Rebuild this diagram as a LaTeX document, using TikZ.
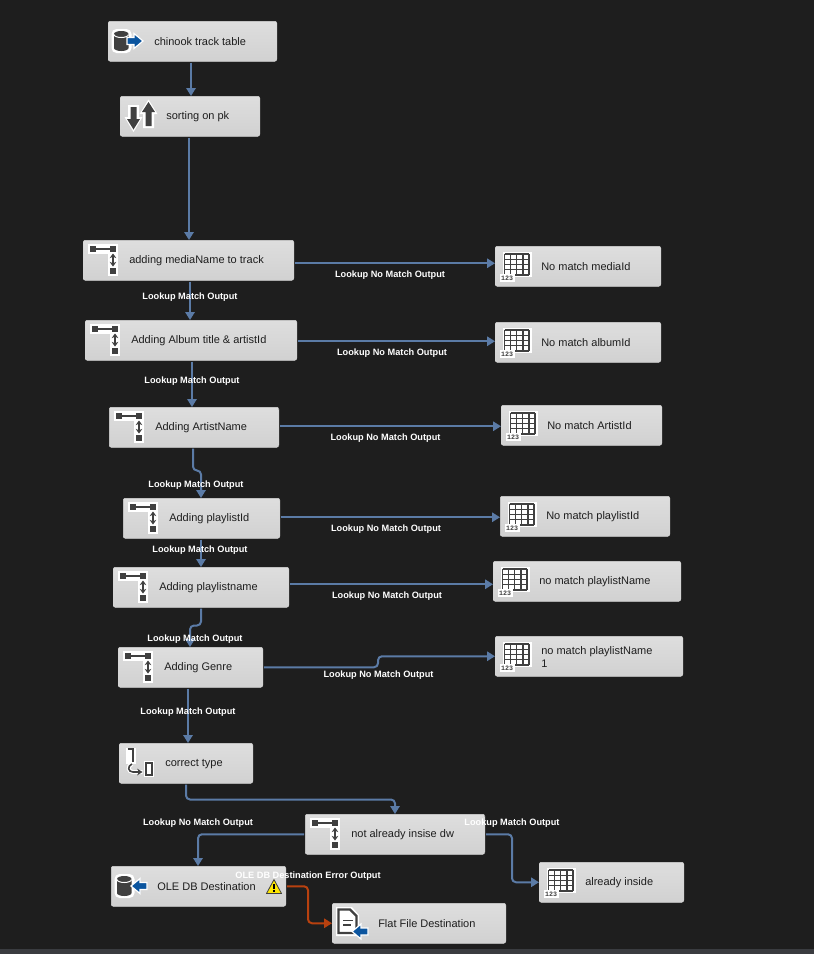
\documentclass[tikz,border=0pt]{standalone}
\usepackage{fontspec}
\setmainfont{Liberation Sans}
\newfontfamily\digitfont{Liberation Mono}
\usepackage{xcolor}
\usetikzlibrary{arrows.meta}
\def\px{0.75pt}
\definecolor{canvas}{HTML}{1E1E1E}
\definecolor{stripe}{HTML}{3A3C40}
\definecolor{flowblue}{HTML}{5B7BA6}
\definecolor{flowred}{HTML}{B8410F}
\definecolor{glyph}{HTML}{404040}
\definecolor{arrowblue}{HTML}{0B559F}

\tikzset{
    pics/lookupicon/.style={code={
        \fill[white] (5,4) rectangle (35,14);
        \fill[white] (25,13) rectangle (35,36);
        \fill[glyph] (7,6) rectangle (13,12);
        \fill[glyph] (27,6) rectangle (33,12);
        \fill[glyph] (27,28) rectangle (33,34);
        \draw[glyph,line width=1.5*\px] (13,9) -- (27,9);
        \draw[glyph,line width=1.6*\px,{Stealth[length=3.5pt,width=5pt]}-{Stealth[length=3.5pt,width=5pt]}] (30,13.5) -- (30,26.5);
    }},
    pics/gridicon/.style={code={
        \fill[white] (7.5,5.5) rectangle (36.5,31);
        \foreach \col in {9.7,15.8,21.9,28,34}
            \draw[glyph,line width=1.1*\px] (\col,8) -- (\col,29);
        \foreach \row in {8,13.2,18.5,23.8,29}
            \draw[glyph,line width=1.1*\px] (9.7,\row) -- (34,\row);
        \fill[white] (5,27.5) rectangle (19.5,36);
        \node[digit] (n) at (12.2,32) {123};
    }},
    pics/cylindericon/.style={code={
        \fill[white,rounded corners=5*\px] (3.5,8) rectangle (23.5,32);
        \fill[glyph] (6,13) arc[x radius=7.25,y radius=3,start angle=180,end angle=360] -- (20.5,27) arc[x radius=7.25,y radius=3,start angle=0,end angle=180] -- cycle;
        \draw[white,line width=1*\px] (6,13.5) arc[x radius=7.25,y radius=3,start angle=180,end angle=0];
    }},
    pics/sorticon/.style={code={
        \fill[white] (8,9) -- (19,9) -- (19,21) -- (22.5,21) -- (13.5,36) -- (4.5,21) -- (8,21) -- cycle;
        \fill[white] (23,32) -- (34,32) -- (34,18) -- (37.5,18) -- (28.5,3.5) -- (19.5,18) -- (23,18) -- cycle;
        \fill[glyph] (10.5,11) -- (16.5,11) -- (16.5,23) -- (20,23) -- (13.5,33.5) -- (7,23) -- (10.5,23) -- cycle;
        \fill[glyph] (25.5,30) -- (31.5,30) -- (31.5,16) -- (35,16) -- (28.5,6) -- (22,16) -- (25.5,16) -- cycle;
    }},
    pics/converticon/.style={code={
        \fill[white] (7,4.5) rectangle (16.5,20.5);
        \fill[white] (24.5,17.5) rectangle (35,33.5);
        \draw[white,line width=4*\px] (13,21) .. controls (8,23) and (9,29) .. (14,29) -- (23.5,29);
        \draw[glyph,line width=2*\px] (8.7,6.3) -- (14.3,6.3) -- (14.3,18.7);
        \draw[glyph,line width=2*\px] (26.5,19.5) rectangle (32.5,31.5);
        \draw[glyph,line width=1.6*\px,-{Stealth[length=4pt,width=5pt]}] (13,21) .. controls (8,23) and (9,29) .. (14,29) -- (23.5,29);
    }},
    pics/fileicon/.style={code={
        \fill[white] (4,4) -- (20,4) -- (27,12) -- (27,33) -- (4,33) -- cycle;
        \draw[glyph,line width=2.4*\px,line join=miter] (6.5,6.5) -- (18,6.5) -- (24.5,13) -- (24.5,30) -- (6.5,30) -- cycle;
        \draw[glyph,line width=1.8*\px] (11,17.5) -- (21,17.5);
        \draw[glyph,line width=1.8*\px] (11,22) -- (19,22);
    }},
    pics/warningicon/.style={code={
        \fill[yellow!90!orange,draw=glyph,line width=0.8*\px,line join=round] (0,14) -- (7.5,0) -- (15,14) -- cycle;
        \fill[black] (6.8,4) rectangle (8.2,9.5);
        \fill[black] (6.8,10.5) rectangle (8.2,12);
    }}
}

\begin{document}
\begin{tikzpicture}%
                [x=\px,
                y=-\px,
                task/.style={anchor=north west,inner sep=0pt,minimum height=40*\px,rounded corners=2*\px,top color=black!13,bottom color=black!18,draw=black!16,line width=0.5*\px},
                tasktext/.style={anchor=west,inner sep=0pt,yshift=-0.75pt,align=left,text=canvas,font=\fontsize{8.25pt}{10pt}\selectfont},
                digit/.style={inner sep=0pt,text=glyph,font=\digitfont\bfseries\fontsize{5pt}{5pt}\selectfont},
                pathlabel/.style={inner sep=0pt,yshift=-0.75pt,text=white,font=\bfseries\fontsize{6.9pt}{8pt}\selectfont},
                flow/.style={draw=flowblue,line width=2*\px,rounded corners=4*\px,shorten <=1*\px,-{Triangle[length=6pt,width=7pt]}},
                errorflow/.style={flow,draw=flowred},
                blockarrow/.style={fill=arrowblue,draw=white,line width=1.2*\px,line join=miter}]
            %% Drawing the canvas
            \useasboundingbox (0,0) rectangle (814,954);
            \fill[canvas] (0,0) rectangle (814,954);
            \fill[stripe] (0,949) rectangle (814,954);
            %%
            %% Drawing the tasks
            %%
            \node[task,minimum width=168.5*\px] (chinook) at (108,21) {};
            \node[task,minimum width=139.5*\px] (sorting) at (120,96) {};
            \node[task,minimum width=210.5*\px] (media) at (83,240) {};
            \node[task,minimum width=211.5*\px] (album) at (85,320) {};
            \node[task,minimum width=169.5*\px] (artist) at (109,407) {};
            \node[task,minimum width=156.5*\px] (playlistid) at (123,498) {};
            \node[task,minimum width=175.5*\px] (playlistname) at (113,567) {};
            \node[task,minimum width=144.5*\px] (genre) at (118,647) {};
            \node[task,minimum width=133.5*\px] (correct) at (119,743) {};
            \node[task,minimum width=179.5*\px] (notinside) at (305,814) {};
            \node[task,minimum width=174.5*\px] (oledb) at (111,866) {};
            \node[task,minimum width=173.5*\px] (flatfile) at (332,903) {};
            \node[task,minimum width=165.5*\px] (nomedia) at (495,246) {};
            \node[task,minimum width=165.5*\px] (noalbum) at (495,322) {};
            \node[task,minimum width=160.5*\px] (noartist) at (501,405) {};
            \node[task,minimum width=169.5*\px] (noplaylistid) at (500,496) {};
            \node[task,minimum width=187.5*\px] (noplaylistname) at (493,561) {};
            \node[task,minimum width=187.5*\px] (nogenre) at (495,636) {};
            \node[task,minimum width=144.5*\px] (already) at (539,862) {};
            %%
            %% Drawing the task names
            %%
            \node[tasktext] (chinooktext) at (154,41) {chinook track table};
            \node[tasktext] (sortingtext) at (166,116) {sorting on pk};
            \node[tasktext] (mediatext) at (129,260) {adding mediaName to track};
            \node[tasktext] (albumtext) at (131,340) {Adding Album title \& artistId};
            \node[tasktext] (artisttext) at (155,427) {Adding ArtistName};
            \node[tasktext] (playlistidtext) at (169,518) {Adding playlistId};
            \node[tasktext] (playlistnametext) at (159,587) {Adding playlistname};
            \node[tasktext] (genretext) at (164,667) {Adding Genre};
            \node[tasktext] (correcttext) at (165,763) {correct type};
            \node[tasktext] (notinsidetext) at (351,834) {not already insise dw};
            \node[tasktext] (oledbtext) at (157,886) {OLE DB Destination};
            \node[tasktext] (flatfiletext) at (378,923) {Flat File Destination};
            \node[tasktext] (nomediatext) at (541,266) {No match mediaId};
            \node[tasktext] (noalbumtext) at (541,342) {No match albumId};
            \node[tasktext] (noartisttext) at (547,425) {No match ArtistId};
            \node[tasktext] (noplaylistidtext) at (546,516) {No match playlistId};
            \node[tasktext] (noplaylistnametext) at (539,581) {no match playlistName};
            \node[tasktext] (nogenretext) at (541,656) {no match playlistName\\1};
            \node[tasktext] (alreadytext) at (585,882) {already inside};
            %%
            %% Drawing the icons
            %%
            \pic at (108,21) {cylindericon};
            \fill[blockarrow] (127,37.5) -- (134,37.5) -- (134,33.5) -- (143,41) -- (134,48.5) -- (134,44.5) -- (127,44.5) -- cycle;
            \pic at (120,96) {sorticon};
            \pic at (83,240) {lookupicon};
            \pic at (85,320) {lookupicon};
            \pic at (109,407) {lookupicon};
            \pic at (123,498) {lookupicon};
            \pic at (113,567) {lookupicon};
            \pic at (118,647) {lookupicon};
            \pic at (305,814) {lookupicon};
            \pic at (119,743) {converticon};
            \pic at (111,866) {cylindericon};
            \fill[blockarrow] (147,882.5) -- (140,882.5) -- (140,878.5) -- (131,886) -- (140,893.5) -- (140,889.5) -- (147,889.5) -- cycle;
            \pic at (266.5,879.5) {warningicon};
            \pic at (332,903) {fileicon};
            \fill[blockarrow] (368,928) -- (361,928) -- (361,924) -- (352,931.5) -- (361,939) -- (361,935) -- (368,935) -- cycle;
            \pic at (495,246) {gridicon};
            \pic at (495,322) {gridicon};
            \pic at (501,405) {gridicon};
            \pic at (500,496) {gridicon};
            \pic at (493,561) {gridicon};
            \pic at (495,636) {gridicon};
            \pic at (539,862) {gridicon};
            %%
            %% Drawing the flows
            %%
            \draw[flow] ([xshift=-1.5*\px]chinook.south) -- ([xshift=1*\px]sorting.north);
            \draw[flow] ([xshift=-1*\px]sorting.south) -- ([xshift=0.5*\px]media.north);
            \draw[flow] ([xshift=1.5*\px]media.south) -- ([xshift=-1*\px]album.north);
            \draw[flow] ([xshift=1*\px]album.south) -- ([xshift=-2*\px]artist.north);
            \draw[flow] ([xshift=-1*\px]artist.south) -- ++(0,23) -| ([xshift=-0.5*\px]playlistid.north);
            \draw[flow] ([xshift=-0.5*\px]playlistid.south) -- (playlistname.north);
            \draw[flow] (playlistname.south) -- ++(0,18) -| ([xshift=-0.5*\px]genre.north);
            \draw[flow] ([xshift=-2.5*\px]genre.south) -- ([xshift=2*\px]correct.north);
            \draw[flow] (correct.south) -- ++(0,16) -| (notinside.north);
            \draw[flow] (notinside.west) -| ([xshift=-0.5*\px]oledb.north);
            \draw[flow] (notinside.east) -- ++(27,0) |- (already.west);
            \draw[errorflow] (oledb.east) -- ++(22,0) |- (flatfile.west);
            \draw[flow] ([yshift=-3*\px]media.east) -- ([yshift=3*\px]nomedia.west);
            \draw[flow] ([yshift=-1*\px]album.east) -- ([yshift=1*\px]noalbum.west);
            \draw[flow] ([yshift=1*\px]artist.east) -- ([yshift=-1*\px]noartist.west);
            \draw[flow] ([yshift=1*\px]playlistid.east) -- ([yshift=-1*\px]noplaylistid.west);
            \draw[flow] ([yshift=3*\px]playlistname.east) -- ([yshift=-3*\px]noplaylistname.west);
            \draw[flow] (genre.east) -- ++(115,0) |- (nogenre.west);
            %%
            %% Drawing the flow labels
            %%
            \node[pathlabel] (matchmedia) at (190,296) {Lookup Match Output};
            \node[pathlabel] (matchalbum) at (192,380) {Lookup Match Output};
            \node[pathlabel] (matchartist) at (196,484) {Lookup Match Output};
            \node[pathlabel] (matchplaylistid) at (200,549) {Lookup Match Output};
            \node[pathlabel] (matchplaylistname) at (195,638) {Lookup Match Output};
            \node[pathlabel] (matchgenre) at (188,711) {Lookup Match Output};
            \node[pathlabel] (matchinside) at (512,822) {Lookup Match Output};
            \node[pathlabel] (nomatchmedia) at (390,274) {Lookup No Match Output};
            \node[pathlabel] (nomatchalbum) at (392,352) {Lookup No Match Output};
            \node[pathlabel] (nomatchartist) at (385.5,437) {Lookup No Match Output};
            \node[pathlabel] (nomatchplaylistid) at (386,528) {Lookup No Match Output};
            \node[pathlabel] (nomatchplaylistname) at (387,595) {Lookup No Match Output};
            \node[pathlabel] (nomatchgenre) at (378.5,674) {Lookup No Match Output};
            \node[pathlabel] (nomatchinside) at (198,822) {Lookup No Match Output};
            \node[pathlabel] (erroroledb) at (308,875) {OLE DB Destination Error Output};
            %%
\end{tikzpicture}
\end{document}
